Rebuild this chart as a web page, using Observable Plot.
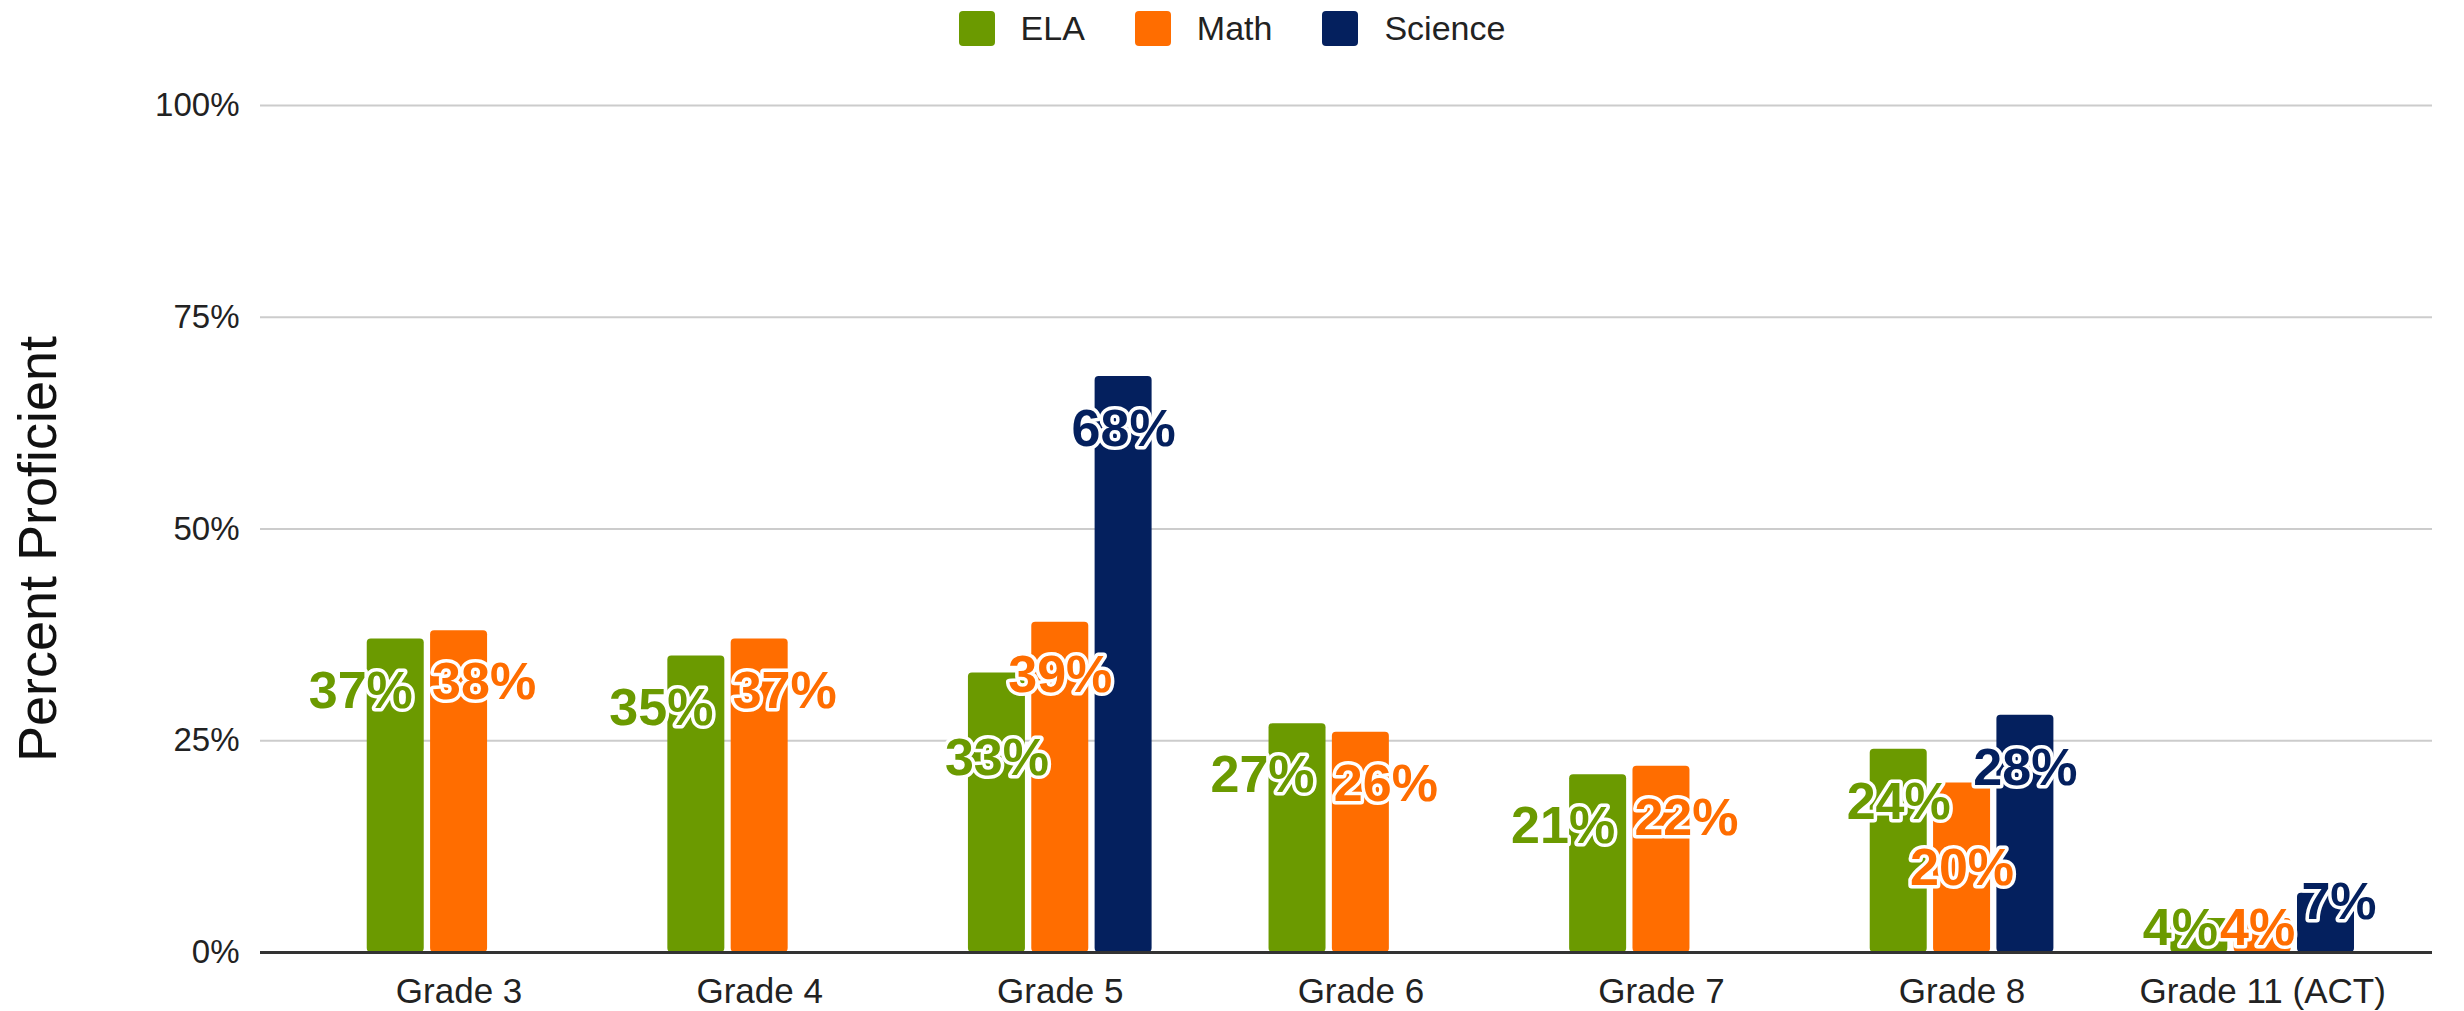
<!DOCTYPE html>
<html>
<head>
<meta charset="utf-8">
<script src="https://cdn.jsdelivr.net/npm/d3@7"></script>
<script src="https://cdn.jsdelivr.net/npm/@observablehq/plot@0.6"></script>
<style>
  html, body { margin: 0; padding: 0; background: #fff; }
  body { font-family: "Liberation Sans", Arial, sans-serif; width: 2464px; height: 1011px; overflow: hidden; }
  #legend { height: 56px; display: flex; justify-content: center; align-items: center; gap: 50px; font-size: 34px; color: #222; }
  #legend .item { display: flex; align-items: center; gap: 26px; }
  #legend .sw { width: 36px; height: 35px; border-radius: 4px; }
  #chart svg { display: block; }
  #chart svg text.lbl, #chart svg g.lbl text { paint-order: stroke; }
</style>
</head>
<body>
<div id="legend"></div>
<div id="chart"></div>
<script>
// ---- data ----
const grades = ["Grade 3", "Grade 4", "Grade 5", "Grade 6", "Grade 7", "Grade 8", "Grade 11 (ACT)"];
const subjects = ["ELA", "Math", "Science"];
const ela = [37, 35, 33, 27, 21, 24, 4];
const math = [38, 37, 39, 26, 22, 20, 4];
const science = [null, null, 68, null, null, 28, 7];
const yTicks = [0, 25, 50, 75, 100];
const yTitle = "Percent Proficient";

// ---- styles ----
const colors = ["#6b9a00", "#ff6d00", "#04205e"];
const W = 2464, H = 1011 - 56;
const pitch = 0.2107;   // slot pitch within a group (in group units)
const half = 0.0948;    // half bar width (in group units)

const series = [ela, math, science];
const rows = [];
grades.forEach((g, gi) => {
  subjects.forEach((s, si) => {
    const v = series[si][gi];
    if (v != null) rows.push({grade: g, gi, subject: s, si, value: v});
  });
});
const pos = d => d.gi + (d.si - 1) * pitch;
const hasSci = d => science[d.gi] != null;
const pushedDown = [["Grade 5", "ELA"], ["Grade 8", "Math"]];
const isPushed = d => pushedDown.some(([g, s]) => g === d.grade && s === d.subject);
const isSmall = d => d.value < 10;

function labels(filter, dx, dy) {
  return Plot.text(rows.filter(filter), {
    x: pos, y: "value", text: d => d.value + "%",
    fill: "subject", stroke: "white", strokeWidth: 7, strokeLinejoin: "round",
    fontSize: 52, fontWeight: "bold", dx, dy, lineAnchor: "middle",
    className: "lbl"
  });
}

// legend
const leg = document.getElementById("legend");
subjects.forEach((s, i) => {
  const it = document.createElement("div");
  it.className = "item";
  const sw = document.createElement("div");
  sw.className = "sw";
  sw.style.background = colors[i];
  const t = document.createElement("span");
  t.textContent = s;
  it.appendChild(sw); it.appendChild(t);
  leg.appendChild(it);
});

const chart = Plot.plot({
  width: W,
  height: H,
  marginTop: 49,
  marginBottom: 59,
  marginLeft: 260,
  marginRight: 32,
  style: {fontFamily: "Liberation Sans, Arial, sans-serif", color: "#222", background: "#fff"},
  x: {type: "linear", domain: [-0.6606, 6.565]},
  y: {domain: [0, 100]},
  color: {domain: subjects, range: colors},
  marks: [
    Plot.gridY({ticks: yTicks.filter(t => t > 0), stroke: "#cccccc", strokeOpacity: 1, strokeWidth: 2}),
    Plot.rectY(rows, {
      x1: d => pos(d) - half, x2: d => pos(d) + half,
      y: "value", fill: "subject", rx: 4
    }),
    Plot.ruleY([0], {stroke: "#333", strokeWidth: 3}),
    Plot.axisY({ticks: yTicks, tickFormat: d => d + "%", tickSize: 0, tickPadding: 21, fontSize: 33, label: null}),
    Plot.axisX({ticks: d3.range(grades.length), tickFormat: i => grades[i], tickSize: 0, tickPadding: 26, fontSize: 35, label: null}),
    Plot.text([yTitle], {text: d => d, frameAnchor: "left", textAnchor: "middle", lineAnchor: "middle", rotate: -90, dx: -222, dy: 20, fontSize: 54, fill: "#111"}),
    // data labels
    labels(d => hasSci(d) && !isSmall(d) && !isPushed(d), 0, 53),
    labels(d => isPushed(d), 0, 85),
    labels(d => !hasSci(d) && d.subject === "ELA", -35, 52),
    labels(d => !hasSci(d) && d.subject === "Math", 25, 52),
    labels(d => isSmall(d) && d.subject === "ELA", -19, 10),
    labels(d => isSmall(d) && d.subject === "Math", -5, 10),
    labels(d => isSmall(d) && d.subject === "Science", 13, 9)
  ]
});
document.getElementById("chart").appendChild(chart);
</script>
</body>
</html>
